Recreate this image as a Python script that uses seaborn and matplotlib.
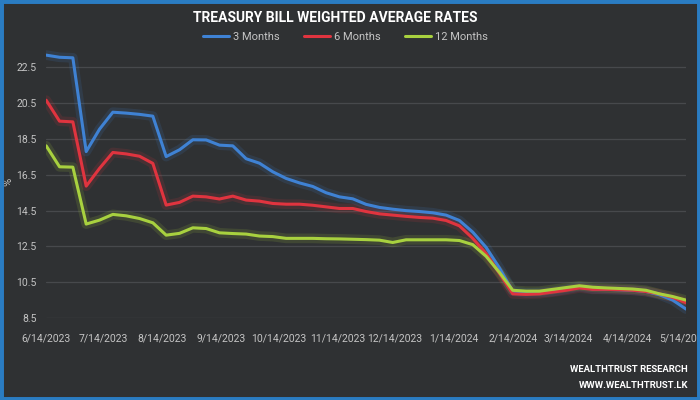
# -*- coding: utf-8 -*-

# 라이브러리 불러오기
import matplotlib.pyplot as plt
import matplotlib.patches as mpatches
import seaborn as sns
import pandas as pd

# 주간 입찰일 (수요일)
dates = pd.date_range('2023-06-14', periods=49, freq='7D')

m3 = [23.19, 23.07, 23.04, 17.80, 19.05, 20.00, 19.95, 19.88, 19.78, 17.52,
      17.90, 18.46, 18.45, 18.16, 18.12, 17.40, 17.15, 16.67, 16.30, 16.05,
      15.85, 15.50, 15.27, 15.16, 14.85, 14.68, 14.58, 14.50, 14.45, 14.38,
      14.25, 13.95, 13.30, 12.45, 11.30, 10.00, 9.90, 9.92, 9.98, 10.10,
      10.25, 10.12, 10.10, 10.08, 10.05, 9.98, 9.80, 9.50, 9.00]
m6 = [20.67, 19.50, 19.46, 15.87, 16.86, 17.75, 17.67, 17.54, 17.14, 14.81,
      14.96, 15.31, 15.27, 15.15, 15.31, 15.09, 15.03, 14.90, 14.86, 14.86,
      14.80, 14.71, 14.62, 14.62, 14.45, 14.32, 14.25, 14.18, 14.12, 14.08,
      13.95, 13.65, 12.95, 12.10, 11.00, 9.85, 9.82, 9.85, 9.95, 10.05,
      10.18, 10.10, 10.10, 10.08, 10.05, 9.98, 9.85, 9.65, 9.35]
m12 = [18.12, 16.95, 16.93, 13.75, 13.97, 14.29, 14.21, 14.06, 13.82, 13.13,
       13.23, 13.54, 13.50, 13.26, 13.22, 13.19, 13.08, 13.05, 12.95, 12.95,
       12.95, 12.93, 12.92, 12.90, 12.88, 12.85, 12.72, 12.87, 12.87, 12.87,
       12.87, 12.83, 12.60, 11.95, 11.05, 10.05, 10.00, 10.00, 10.10, 10.20,
       10.30, 10.22, 10.18, 10.15, 10.12, 10.05, 9.85, 9.70, 9.50]

series_names = ['3 Months', '6 Months', '12 Months']
yticks = [8.5, 10.5, 12.5, 14.5, 16.5, 18.5, 20.5, 22.5]
tick_dates = pd.date_range('2023-06-14', periods=12, freq=pd.DateOffset(months=1))
tick_labels = [f'{d.month}/{d.day}/{d.year}' for d in tick_dates]

df = pd.DataFrame({'date': dates, '3 Months': m3, '6 Months': m6, '12 Months': m12})
df = df.melt(id_vars='date', var_name='tenor', value_name='rate')

bg = '#2f3133'
txt = '#c4c4c4'
palette = {'3 Months': '#3f82d4', '6 Months': '#e0343f', '12 Months': '#a8d13f'}

sns.set_style('dark', {'axes.facecolor': bg, 'figure.facecolor': bg})
plt.rcParams['font.family'] = ['Roboto', 'DejaVu Sans']

fig = plt.figure(figsize=(7, 4), dpi=100)
ax = fig.add_axes([0.066, 0.205, 0.914, 0.68])

# 빛 번짐 효과 + 본선
sns.lineplot(data=df, x='date', y='rate', hue='tenor', palette=palette,
             lw=7, alpha=0.14, legend=False, ax=ax)
sns.lineplot(data=df, x='date', y='rate', hue='tenor', palette=palette,
             hue_order=series_names, lw=2.2, ax=ax)

ax.set_xlim(dates[0], dates[-1])
ax.set_ylim(8.5, 23.7)
ax.set_yticks(yticks)
ax.set_yticklabels([f'{v:.1f}' for v in yticks])
ax.set_xticks(tick_dates)
ax.set_xticklabels(tick_labels)
ax.tick_params(length=0, colors=txt, labelsize=7.5)
ax.tick_params(axis='x', pad=11)
ax.tick_params(axis='y', pad=7)
ax.yaxis.grid(True, color='#47494c', lw=0.9)
ax.xaxis.grid(False)
for s in ax.spines.values():
    s.set_visible(False)
ax.set_xlabel('')
ax.set_ylabel('%', color=txt, fontsize=8, labelpad=2)

handles, labels = ax.get_legend_handles_labels()
ax.get_legend().remove()
fig.legend(handles, labels, loc='center', bbox_to_anchor=(0.493, 0.907), ncol=3,
           frameon=False, labelcolor=txt, fontsize=8, handlelength=2.4,
           columnspacing=2.2, handletextpad=0.3)

# 제목 및 워터마크
fig.text(0.479, 0.955, 'TREASURY BILL WEIGHTED AVERAGE RATES', ha='center', va='center',
         color='white', fontsize=10, fontweight='bold')
fig.text(0.983, 0.075, 'WEALTHTRUST RESEARCH', ha='right', va='center',
         color='white', fontsize=6.8, fontweight='bold')
fig.text(0.983, 0.035, 'WWW.WEALTHTRUST.LK', ha='right', va='center',
         color='white', fontsize=6.8, fontweight='bold')

# 파란 테두리
fig.patches.append(mpatches.Rectangle((0, 0), 1, 1, transform=fig.transFigure,
                                      fill=False, edgecolor='#2a7cc2', lw=5))

fig.savefig('out.png', dpi=100, facecolor=bg)
